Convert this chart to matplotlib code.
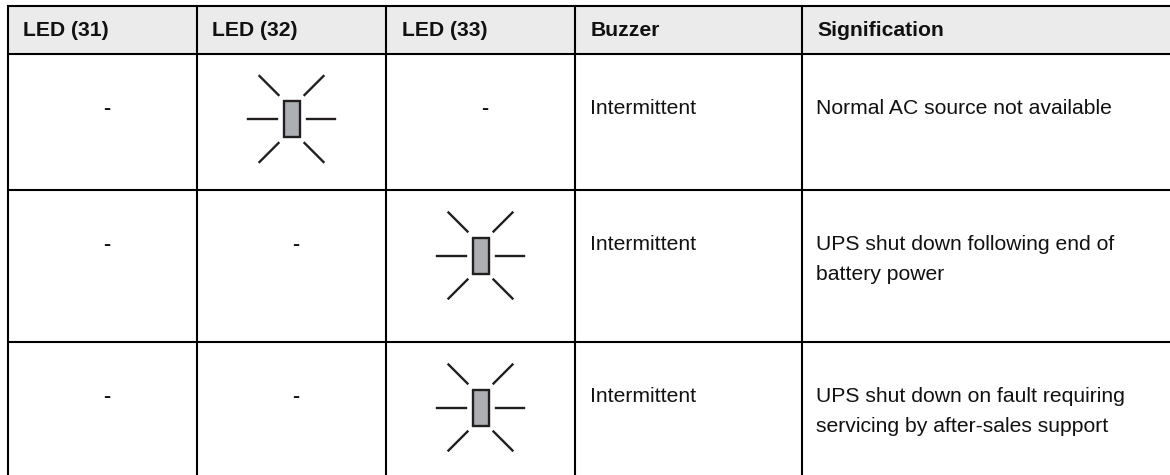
import matplotlib
matplotlib.use('Agg')
import matplotlib.pyplot as plt
from matplotlib.patches import Rectangle

plt.rcParams['font.family'] = ['Liberation Sans', 'DejaVu Sans']

col_edges = [7.5, 197, 386, 575, 802]
row_edges = [6, 53.5, 190, 342]
headers = ['LED (31)', 'LED (32)', 'LED (33)', 'Buzzer', 'Signification']
led31 = ['-', '-', '-']
led32 = ['on', '-', '-']
led33 = ['-', 'on', 'on']
buzzer = ['Intermittent', 'Intermittent', 'Intermittent']
meaning = ['Normal AC source not available',
           'UPS shut down following end of\nbattery power',
           'UPS shut down on fault requiring\nservicing by after-sales support']
text_col = '#111111'


def draw_led(ax, x, y):
    ax.add_patch(Rectangle((x - 8, y - 18), 16, 36, fc='#aeafb2', ec='#231f20', lw=1.7))
    for x0, y0, x1, y1 in [(-43.5, 0, -15, 0), (15, 0, 43.5, 0),
                           (-32, -43, -13, -24), (32, -43, 13, -24),
                           (-32, 43, -13, 24), (32, 43, 13, 24)]:
        ax.plot([x + x0, x + x1], [y + y0, y + y1], color='#231f20', lw=1.7)


fig = plt.figure(figsize=(11.7, 4.75), dpi=100)
ax = fig.add_axes([0, 0, 1, 1])
ax.set_xlim(0, 1170)
ax.set_ylim(475, 0)
ax.axis('off')

ax.add_patch(Rectangle((col_edges[0], row_edges[0]), 1170 - col_edges[0],
                       row_edges[1] - row_edges[0], fc='#ebebeb', ec='none'))
for x in col_edges:
    ax.plot([x, x], [row_edges[0], 475], color='black', lw=1.5, solid_capstyle='butt')
for y in row_edges:
    ax.plot([col_edges[0] - 1, 1170], [y, y], color='black', lw=1.5, solid_capstyle='butt')

for i, h in enumerate(headers):
    ax.text(col_edges[i] + 15.5, 35.7, h, fontsize=15.2, fontweight='bold', color=text_col, va='baseline')

for r in range(3):
    base = row_edges[r + 1] + 60.5
    for c, col in enumerate([led31, led32, led33]):
        cx = (col_edges[c] + col_edges[c + 1]) / 2
        if col[r] == 'on':
            draw_led(ax, cx, row_edges[r + 1] + 65.5)
        else:
            ax.text(cx + 4.5, base, col[r], fontsize=15.2, fontweight='bold', color=text_col, ha='center', va='baseline')
    ax.text(col_edges[3] + 15, base, buzzer[r], fontsize=15.2, color=text_col, va='baseline')
    for k, line in enumerate(meaning[r].split('\n')):
        ax.text(col_edges[4] + 14.5, base + k * 29.3, line, fontsize=15.2, color=text_col, va='baseline')

fig.savefig('out.png', dpi=100)
